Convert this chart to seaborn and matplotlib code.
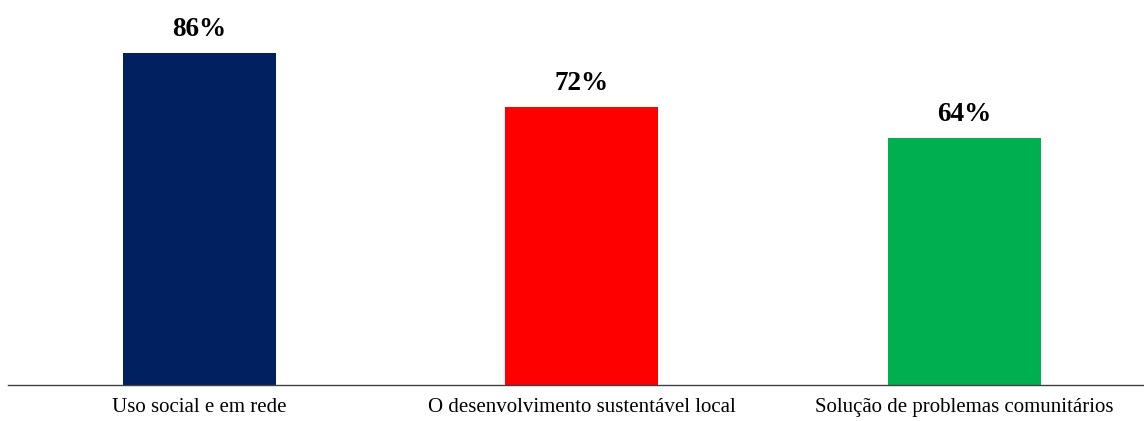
import matplotlib
matplotlib.use("Agg")
import matplotlib.pyplot as plt
import seaborn as sns
import pandas as pd

categories = ["Uso social e em rede",
              "O desenvolvimento sustentável local",
              "Solução de problemas comunitários"]
values = [86, 72, 64]
colors = ["#002060", "#FF0000", "#00B050"]

df = pd.DataFrame({"categoria": categories, "valor": values})

sns.set_theme(style="white")
plt.rcParams["font.family"] = ["Liberation Serif", "DejaVu Serif"]

W, H = 1144, 421
fig = plt.figure(figsize=(W / 100, H / 100), dpi=100)
ax = fig.add_axes([8 / W, 36 / H, 1147.5 / W, 385 / H])

sns.barplot(data=df, x="categoria", y="valor", hue="categoria",
            palette=colors, width=0.4, legend=False, ax=ax,
            saturation=1, edgecolor="none")

ax.set_xlim(-0.5, 2.5)
ax.set_ylim(0, 99.6)

for i, v in enumerate(values):
    ax.annotate(f"{v}%", xy=(i, v), xytext=(0, 12), textcoords="offset points",
                ha="center", va="baseline", fontsize=19.5, fontweight="bold",
                color="black")

for s in ["top", "right", "left"]:
    ax.spines[s].set_visible(False)
ax.spines["bottom"].set_color("#404040")
ax.spines["bottom"].set_linewidth(1.0)

ax.set_yticks([])
ax.set_xlabel("")
ax.set_ylabel("")
ax.tick_params(axis="x", length=0, pad=9.5, labelsize=15, labelcolor="black")

fig.savefig("out.png", dpi=100)
